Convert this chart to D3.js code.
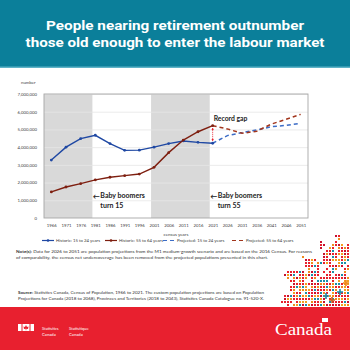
<!DOCTYPE html>
<html><head><meta charset="utf-8">
<script src="https://cdn.jsdelivr.net/npm/d3@7"></script>
<style>body{margin:0;background:#fff}svg{display:block}</style>
</head><body>
<svg id="c" width="350" height="350"></svg>
<script>
// Census years shown on the x axis
const years = [1966,1971,1976,1981,1986,1991,1996,2001,2006,2011,2016,2021,2026,2031,2036,2041,2046,2051];
const histYears = [1966,1971,1976,1981,1986,1991,1996,2001,2006,2011,2016,2021];
const projYears = [2021,2026,2031,2036,2041,2046,2051];

// Population counts
const hist15to24 = [3270000,4000000,4480000,4670000,4200000,3820000,3830000,4000000,4200000,4350000,4270000,4220000];
const hist55to64 = [1470000,1750000,1940000,2150000,2300000,2390000,2480000,2860000,3690000,4400000,4870000,5210000];
const proj15to24 = [4220000,4650000,4820000,4970000,5150000,5230000,5350000];
const proj55to64 = [5210000,5030000,4780000,4900000,5300000,5570000,5850000];

const yTicks = [0,1000000,2000000,3000000,4000000,5000000,6000000,7000000];
// Periods when baby boomers turned 15 and 55
const boomersTurn15 = [1963.5, 1980];
const boomersTurn55 = [2000, 2020];

const svg = d3.select("#c");
const FONT = "Lato, 'Open Sans', sans-serif";

// Header band
svg.append("rect").attr("x",0).attr("y",0).attr("width",350).attr("height",68).attr("fill","#0b7f9a");
svg.append("rect").attr("x",0).attr("y",66.5).attr("width",350).attr("height",1.5).attr("fill","#5fb3c7");
const titleLines = ["People nearing retirement outnumber","those old enough to enter the labour market"];
const titleW = [258, 299];
titleLines.forEach((t,i)=>{
  svg.append("text").attr("x",175).attr("y",30+i*17).attr("text-anchor","middle")
    .attr("font-family","Roboto, 'DejaVu Sans', sans-serif").attr("font-weight",700)
    .attr("font-size",12.5).attr("fill","#fff")
    .attr("textLength",titleW[i]).attr("lengthAdjust","spacingAndGlyphs").text(t);
});

// Plot area
const L=44, R=308, T=94, B=218;
const x = d3.scaleLinear().domain([1963.5,2053.5]).range([L,R]);
const y = d3.scaleLinear().domain([0,7000000]).range([B,T]);

[boomersTurn15, boomersTurn55].forEach(p=>{
  svg.append("rect").attr("x",x(p[0])).attr("y",T).attr("width",x(p[1])-x(p[0])).attr("height",B-T).attr("fill","#d9d9d9");
});

// Horizontal gridlines
svg.append("g").attr("transform",`translate(${L},0)`)
  .call(d3.axisLeft(y).tickValues(yTicks.slice(1)).tickSize(-(R-L)).tickFormat(""))
  .call(g=>g.select(".domain").remove())
  .call(g=>g.selectAll("line").attr("stroke","#e6e6e6").attr("stroke-width",0.8));

svg.append("rect").attr("x",L).attr("y",T).attr("width",R-L).attr("height",B-T)
  .attr("fill","none").attr("stroke","#a6a6a6").attr("stroke-width",0.9);

// Y axis labels
svg.append("g").attr("transform",`translate(${L-4},0)`)
  .call(d3.axisLeft(y).tickValues(yTicks).tickSize(0).tickFormat(d3.format(",")))
  .call(g=>g.select(".domain").remove())
  .call(g=>g.selectAll("text").attr("font-family",FONT).attr("font-size",4.3).attr("fill","#404040"));
svg.append("text").attr("x",21).attr("y",84).attr("font-family",FONT).attr("font-size",4.3).attr("fill","#404040").text("number");

// X axis labels
svg.append("g").attr("transform",`translate(0,${B+3})`)
  .call(d3.axisBottom(x).tickValues(years).tickSize(0).tickFormat(d3.format("d")))
  .call(g=>g.select(".domain").remove())
  .call(g=>g.selectAll("text").attr("font-family",FONT).attr("font-size",4.3).attr("fill","#404040"));
svg.append("text").attr("x",176).attr("y",236).attr("text-anchor","middle").attr("font-family",FONT)
  .attr("font-size",4.5).attr("fill","#404040").text("census years");

const BLUE="#1f48a3", RED="#7e1f10", BLUE_P="#3c6cc6", RED_P="#a2351c";
const line = d3.line().x(d=>x(d[0])).y(d=>y(d[1]));

function drawSeries(xs, vs, color, dashed, markers){
  const pts = xs.map((yr,i)=>[yr,vs[i]]);
  svg.append("path").datum(pts).attr("d",line).attr("fill","none").attr("stroke",color)
    .attr("stroke-width",dashed?1.5:1.4).attr("stroke-dasharray",dashed?"4,3":null);
  if(markers){
    svg.append("g").selectAll("circle").data(pts).join("circle")
      .attr("cx",d=>x(d[0])).attr("cy",d=>y(d[1])).attr("r",1.4).attr("fill",color);
  }
}
drawSeries(projYears, proj15to24, BLUE_P, true, false);
drawSeries(projYears, proj55to64, RED_P, true, false);
drawSeries(histYears, hist15to24, BLUE, false, true);
drawSeries(histYears, hist55to64, RED, false, true);

// Record gap arrow
const defs = svg.append("defs");
defs.append("marker").attr("id","ah").attr("viewBox","0 0 10 10").attr("refX",8).attr("refY",5)
  .attr("markerWidth",3).attr("markerHeight",3).attr("orient","auto-start-reverse")
  .append("path").attr("d","M0,0L10,5L0,10z").attr("fill","#e8202c");
const gx = x(2021);
svg.append("line").attr("x1",gx).attr("x2",gx)
  .attr("y1",y(hist55to64[11])+2.5).attr("y2",y(hist15to24[11])-2.5)
  .attr("stroke","#e8202c").attr("stroke-width",0.9).attr("stroke-dasharray","1,1")
  .attr("marker-start","url(#ah)").attr("marker-end","url(#ah)");
svg.append("text").attr("x",x(2021)+1).attr("y",121).attr("font-family",FONT).attr("font-weight",700)
  .attr("font-size",6.8).attr("fill","#222").text("Record gap");

// Baby boomer annotations
function note(yr, lines){
  const ax = x(yr);
  svg.append("text").attr("x",ax-2.5).attr("y",198.5).attr("font-family",FONT).attr("font-size",7)
    .attr("font-weight",700).attr("fill","#222").text("←");
  lines.forEach((t,i)=>svg.append("text").attr("x",ax+5).attr("y",198+i*9.5)
    .attr("font-family",FONT).attr("font-weight",700).attr("font-size",7).attr("fill","#222").text(t));
}
note(1981, ["Baby boomers","turn 15"]);
note(2021, ["Baby boomers","turn 55"]);

// Legend
const legend = [
  {label:"Historic: 15 to 24 years", color:BLUE, dashed:false, x:42},
  {label:"Historic: 55 to 64 years", color:RED, dashed:false, x:105},
  {label:"Projected: 15 to 24 years", color:BLUE_P, dashed:true, x:163},
  {label:"Projected: 55 to 64 years", color:RED_P, dashed:true, x:232}
];
legend.forEach(d=>{
  const g = svg.append("g").attr("transform",`translate(${d.x},240.5)`);
  g.append("line").attr("x1",0).attr("x2",12).attr("y1",0).attr("y2",0).attr("stroke",d.color)
    .attr("stroke-width",1.2).attr("stroke-dasharray",d.dashed?"4,3":null);
  if(!d.dashed) g.append("circle").attr("cx",6).attr("cy",0).attr("r",1.3).attr("fill",d.color);
  g.append("text").attr("x",14).attr("y",1.5).attr("font-family",FONT).attr("font-size",4.3)
    .attr("fill","#404040").text(d.label);
});

// Notes and source
function para(x0, y0, bold, lines, width){
  lines.forEach((t,i)=>{
    const tx = svg.append("text").attr("x",x0).attr("y",y0+i*6).attr("font-family",FONT)
      .attr("font-size",4.4).attr("fill","#333");
    if(i===0){ tx.append("tspan").attr("font-weight",700).text(bold+" "); }
    tx.append("tspan").text(t);
    if(width[i]) tx.attr("textLength",width[i]).attr("lengthAdjust","spacingAndGlyphs");
  });
}
para(16, 253, "Note(s):", [
  "Data for 2026 to 2051 are population projections from the M1 medium-growth scenario and are based on the 2016 Census. For reasons",
  "of comparability, the census net undercoverage has been removed from the projected populations presented in this chart."
], [296, 252]);
para(18, 294, "Source:", [
  "Statistics Canada, Census of Population, 1966 to 2021. The custom population projections are based on Population",
  "Projections for Canada (2018 to 2068), Provinces and Territories (2018 to 2043), Statistics Canada Catalogue no. 91-520-X."
], [246, 246]);

// Pixel maple leaf decoration
const leaf = [[336,228],[331,246],[319,240],[321,260],[301,254],[306,268],[280,272],[291,284],[279,300],[288,307],[350,307],[350,234],[343,246]];
const palette = ["#e8202c","#e8202c","#e8202c","#f08a1c","#1a8fa8","#c8102e","#f3a01e"];
const inLeaf = p=>d3.polygonContains(leaf,p);
const dots = svg.append("g");
for(let gx2=278; gx2<350; gx2+=3){
  for(let gy=226; gy<308; gy+=3){
    if(!inLeaf([gx2,gy])) continue;
    const h = ((gx2*73856093) ^ (gy*19349663)) >>> 0;
    const density = 0.55 + (gy-226)/82*0.4;
    if((h%100)/100 > density) continue;
    dots.append("rect").attr("x",gx2).attr("y",gy).attr("width",2).attr("height",2)
      .attr("fill",palette[(h>>>7)%palette.length]);
  }
}
[[340,292,"#1a8fa8"],[326,296,"#1a8fa8"],[332,300,"#c8601e"],[346,283,"#f08a1c"]].forEach(c=>{
  dots.append("path").attr("d",`M${c[0]-3},${c[1]}h6M${c[0]},${c[1]-3}v6`).attr("stroke",c[2]).attr("stroke-width",1.6);
});

// Footer band
svg.append("rect").attr("x",0).attr("y",307).attr("width",350).attr("height",43).attr("fill","#e8202f");
// Federal identity symbol
const fs = svg.append("g").attr("transform","translate(18,324)");
fs.append("rect").attr("x",0).attr("y",0).attr("width",3.5).attr("height",7).attr("fill","#fff");
fs.append("rect").attr("x",12.5).attr("y",0).attr("width",3.5).attr("height",7).attr("fill","#fff");
fs.append("rect").attr("x",4.5).attr("y",0).attr("width",7).attr("height",7).attr("fill","#fff");
fs.append("path").attr("d","M8,1 L9,3 L10.5,2.5 L10,5 L8.3,4.8 L8.3,6.3 L7.7,6.3 L7.7,4.8 L6,5 L5.5,2.5 L7,3Z").attr("fill","#e8202f");
[["Statistics",42,330],["Canada",42,335.5],["Statistique",69,330],["Canada",69,335.5]].forEach(t=>{
  svg.append("text").attr("x",t[1]).attr("y",t[2]).attr("font-family",FONT).attr("font-size",4.2)
    .attr("fill","#fff").text(t[0]);
});
svg.append("text").attr("x",275).attr("y",335).attr("font-family","'Liberation Serif', serif")
  .attr("font-size",16).attr("fill","#fff").attr("textLength",57).attr("lengthAdjust","spacingAndGlyphs").text("Canada");
svg.append("rect").attr("x",322).attr("y",318).attr("width",6).attr("height",4).attr("fill","#fff");
</script>
</body></html>
